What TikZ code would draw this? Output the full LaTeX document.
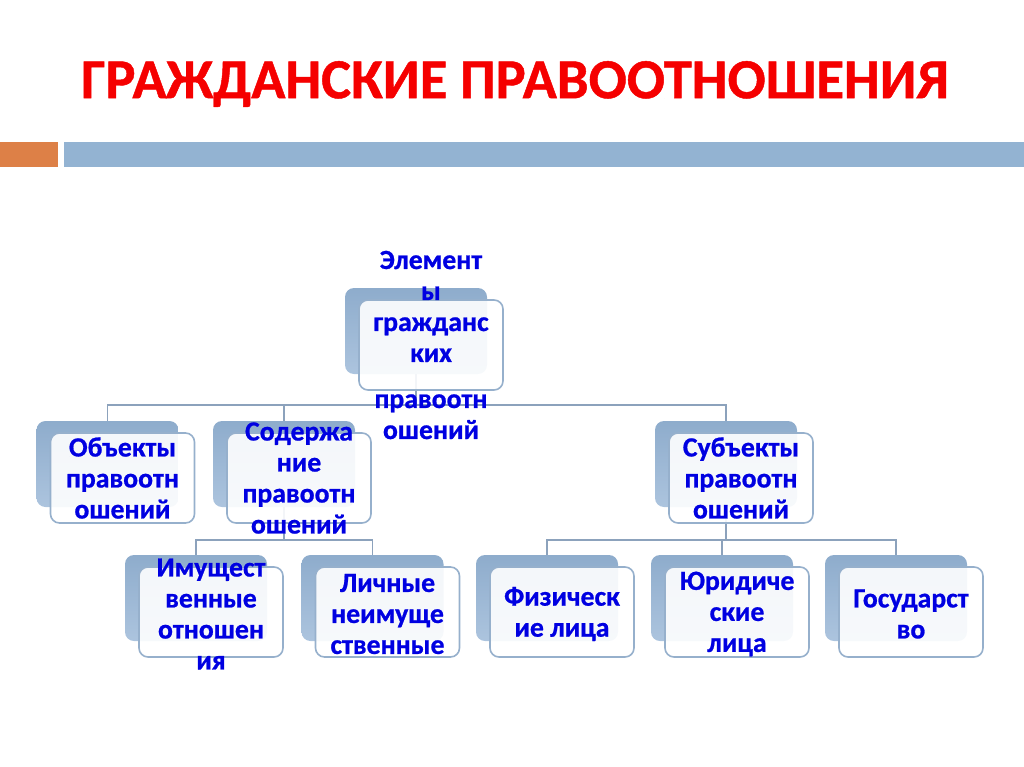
\documentclass[tikz,border=0pt]{standalone}
\usepackage{fontspec}
\setmainfont{Carlito}[BoldFeatures={FakeBold=0.8}]
\definecolor{txtblue}{RGB}{0,0,225}
\definecolor{titlered}{RGB}{245,0,0}
\definecolor{barorange}{RGB}{221,128,71}
\definecolor{barblue}{RGB}{147,179,210}
\definecolor{backtop}{RGB}{142,172,204}
\definecolor{backbot}{RGB}{172,196,222}
\definecolor{frontline}{RGB}{150,176,204}
\definecolor{linkcol}{RGB}{140,162,188}
\tikzset{
  backbox/.style={rounded corners=6.75pt, minimum width=106.5pt, minimum height=64.5pt, inner sep=0pt,
    top color=backtop, bottom color=backbot, draw=none},
  frontbox/.style={rounded corners=6.75pt, minimum width=108pt, minimum height=67.5pt, inner sep=0pt,
    fill=white, fill opacity=0.9, draw=frontline, line width=1.2pt},
  lbl/.style={text=txtblue, align=center, font=\bfseries\fontsize{20.8}{23.25}\selectfont, inner sep=0pt},
  link/.style={draw=linkcol, line width=1.2pt}
}
\begin{document}
\begin{tikzpicture}[x=0.75pt,y=-0.75pt]
\useasboundingbox (0,0) rectangle (1024,767);
% title
\node[text=titlered, font=\bfseries\fontsize{42.4}{50}\selectfont, inner sep=0pt] (title) at (515,84) {ГРАЖДАНСКИЕ ПРАВООТНОШЕНИЯ};
% bars
\fill[barorange] (0,142) rectangle (58,167);
\fill[barblue] (64,142) rectangle (1024,167);
% bus coordinates
\coordinate (bus1) at (0,405);
\coordinate (bus2) at (0,540);
% back boxes
\node[backbox] (bTop) at (416,331) {};
\node[backbox] (bObj) at (107.5,464) {};
\node[backbox] (bSod) at (284,464) {};
\node[backbox] (bSub) at (726,464) {};
\node[backbox] (bIm)  at (196,598) {};
\node[backbox] (bLi)  at (372.5,598) {};
\node[backbox] (bFiz) at (547,598) {};
\node[backbox] (bYur) at (722,598) {};
\node[backbox] (bGos) at (896,598) {};
% connectors
\draw[link] (bTop.south) -- (bTop.south |- bus1);
\draw[link] (bObj.north) |- (bus1 -| bSub.north) -- (bSub.north);
\draw[link] (bSod.north) -- (bSod.north |- bus1);
\draw[link] (bSod.south) -- (bSod.south |- bus2);
\draw[link] (bIm.north) |- (bus2 -| bLi.north) -- (bLi.north);
\draw[link] (bSub.south) -- (bSub.south |- bus2);
\draw[link] (bFiz.north) |- (bus2 -| bGos.north) -- (bGos.north);
\draw[link] (bYur.north) -- (bYur.north |- bus2);
% front boxes
\node[frontbox] (fTop) at (431,345) {};
\node[frontbox] (fObj) at (122.5,478) {};
\node[frontbox] (fSod) at (299,478) {};
\node[frontbox] (fSub) at (741,478) {};
\node[frontbox] (fIm)  at (211,612) {};
\node[frontbox] (fLi)  at (387.5,612) {};
\node[frontbox] (fFiz) at (562,612) {};
\node[frontbox] (fYur) at (737,612) {};
\node[frontbox] (fGos) at (911,612) {};
% labels
\node[lbl] (tTop) at (fTop) {Элемент\\ы\\гражданс\\ких\\[11.25pt]правоотн\\ошений};
\node[lbl] (tObj) at (fObj) {Объекты\\правоотн\\ошений};
\node[lbl] (tSod) at (fSod) {Содержа\\ние\\правоотн\\ошений};
\node[lbl] (tSub) at (fSub) {Субъекты\\правоотн\\ошений};
\node[lbl] (tIm)  at ([yshift=-1.5pt]fIm) {Имущест\\венные\\отношен\\ия};
\node[lbl] (tLi)  at ([yshift=-1.5pt]fLi) {Личные\\неимуще\\ственные};
\node[lbl] (tFiz) at ([yshift=-1.5pt]fFiz) {Физическ\\ие лица};
\node[lbl] (tYur) at ([yshift=-1.5pt]fYur) {Юридиче\\ские\\лица};
\node[lbl] (tGos) at ([yshift=-1.5pt]fGos) {Государст\\во};
\end{tikzpicture}
\end{document}
